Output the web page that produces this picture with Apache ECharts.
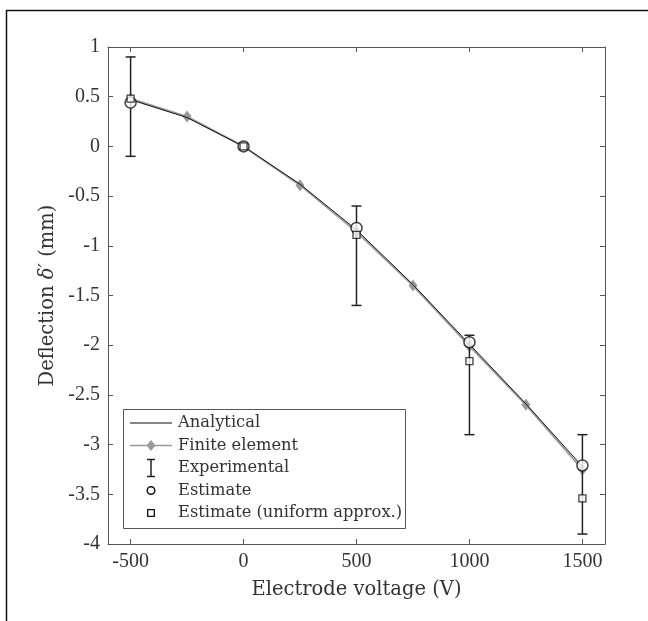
<!DOCTYPE html>
<html>
<head>
<meta charset="utf-8">
<script src="https://cdn.jsdelivr.net/npm/echarts@6/dist/echarts.min.js"></script>
<style>html,body{margin:0;padding:0;background:#fff;}#c{width:648px;height:621px;}</style>
</head>
<body>
<div id="c"></div>
<script>
// ---- data ----
const voltages = [-500, -250, 0, 250, 500, 750, 1000, 1250, 1500];
const analytical = [0.47, 0.29, 0, -0.38, -0.84, -1.39, -1.99, -2.59, -3.22];
const finiteElement = [0.48, 0.30, 0, -0.39, -0.86, -1.40, -2.01, -2.60, -3.25];
const expVoltages = [-500, 0, 500, 1000, 1500];
const expLow = [-0.1, -0.025, -1.6, -2.9, -3.9];
const expHigh = [0.9, 0.025, -0.6, -1.9, -2.9];
const estimate = [0.44, 0, -0.82, -1.97, -3.21];
const estimateUniform = [0.48, 0, -0.89, -2.16, -3.54];
const xTicks = [-500, 0, 500, 1000, 1500];
const seriesNames = ['Analytical', 'Finite element', 'Experimental', 'Estimate', 'Estimate (uniform approx.)'];

const FONT = 'DejaVu Serif';
const TICKFONT = 'Liberation Serif';
const TXT = '#333';
const AX = '#555';

const pair = (xs, ys) => xs.map((x, i) => [x, ys[i]]);
const errData = expVoltages.map((x, i) => [x, expLow[i], expHigh[i]]);

const chart = echarts.init(document.getElementById('c'), null, {renderer: 'canvas'});

const baseX = {
  type: 'value', min: -600, max: 1600, interval: 500,
  axisLine: {show: true, onZero: false, lineStyle: {color: AX, width: 1}},
  splitLine: {show: false}
};
const baseY = {
  type: 'value', min: -4, max: 1, interval: 0.5,
  axisLine: {show: true, onZero: false, lineStyle: {color: AX, width: 1}},
  axisTick: {show: true, inside: true, length: 5, lineStyle: {color: AX}},
  splitLine: {show: false}
};

// ---- legend (drawn as graphic, box + sample icons + text) ----
const LX = 151;            // icon centre x
const rows = [423, 445.5, 468, 490.5, 513];
const legendText = seriesNames.map((n, i) => ({
  type: 'text', left: 178, top: rows[i] - 10,
  style: {text: n, font: '16.3px "' + FONT + '"', fill: TXT, textVerticalAlign: 'top', lineHeight: 20},
  z: 101, silent: true
}));
const legendGraphics = [
  {type: 'rect', shape: {x: 123.5, y: 409.5, width: 282, height: 119},
    style: {fill: '#fff', stroke: '#555', lineWidth: 1}, z: 100, silent: true},
  {type: 'line', shape: {x1: 130, y1: rows[0], x2: 172, y2: rows[0]}, style: {stroke: '#111', lineWidth: 1}, z: 101, silent: true},
  {type: 'line', shape: {x1: 130, y1: rows[1], x2: 172, y2: rows[1]}, style: {stroke: '#999', lineWidth: 1.6}, z: 101, silent: true},
  {type: 'polygon', shape: {points: [[LX, rows[1] - 5.5], [LX + 4.5, rows[1]], [LX, rows[1] + 5.5], [LX - 4.5, rows[1]]]},
    style: {fill: '#999'}, z: 102, silent: true},
  {type: 'line', shape: {x1: LX, y1: rows[2] - 8.5, x2: LX, y2: rows[2] + 8.5}, style: {stroke: '#222', lineWidth: 1.5}, z: 101, silent: true},
  {type: 'line', shape: {x1: LX - 4, y1: rows[2] - 8.5, x2: LX + 4, y2: rows[2] - 8.5}, style: {stroke: '#222', lineWidth: 1.5}, z: 101, silent: true},
  {type: 'line', shape: {x1: LX - 4, y1: rows[2] + 8.5, x2: LX + 4, y2: rows[2] + 8.5}, style: {stroke: '#222', lineWidth: 1.5}, z: 101, silent: true},
  {type: 'circle', shape: {cx: LX, cy: rows[3], r: 3.8}, style: {fill: '#fff', stroke: '#111', lineWidth: 1.5}, z: 101, silent: true},
  {type: 'rect', shape: {x: LX - 3.3, y: rows[4] - 3.3, width: 6.6, height: 6.6}, style: {fill: '#fff', stroke: '#111', lineWidth: 1.3}, z: 101, silent: true}
].concat(legendText);

chart.setOption({
  animation: false,
  backgroundColor: '#fff',
  grid: {left: 108, right: 43, top: 47, bottom: 77, containLabel: false},
  xAxis: [
    Object.assign({}, baseX, {
      position: 'bottom',
      name: 'Electrode voltage (V)', nameLocation: 'middle', nameGap: 36,
      nameTextStyle: {fontFamily: FONT, fontSize: 19.5, color: TXT},
      axisLabel: {fontFamily: TICKFONT, fontSize: 20, color: TXT, margin: 8,
        customValues: xTicks, formatter: v => String(v)},
      axisTick: {show: true, inside: true, length: 5, lineStyle: {color: AX}, customValues: xTicks}
    }),
    Object.assign({}, baseX, {position: 'top', axisLabel: {show: false},
      axisTick: {show: true, inside: true, length: 5, lineStyle: {color: AX}, customValues: xTicks}})
  ],
  yAxis: [
    Object.assign({}, baseY, {
      position: 'left',
      name: '{n|Deflection }{i|δ′}{n| (mm)}', nameLocation: 'middle', nameGap: 50, nameRotate: 90,
      nameTextStyle: {fontFamily: FONT, fontSize: 19.5, color: TXT,
        rich: {n: {fontFamily: FONT, fontSize: 19.5, color: TXT}, i: {fontFamily: FONT, fontSize: 19.5, color: TXT, fontStyle: 'italic'}}},
      axisLabel: {fontFamily: TICKFONT, fontSize: 20, color: TXT, margin: 8, formatter: v => String(v)}
    }),
    Object.assign({}, baseY, {position: 'right', axisLabel: {show: false}})
  ],
  legend: {show: false},
  graphic: [
    {type: 'line', shape: {x1: 6.5, y1: 10, x2: 6.5, y2: 621}, style: {stroke: '#111', lineWidth: 1.5}, silent: true},
    {type: 'line', shape: {x1: 6, y1: 10.5, x2: 648, y2: 10.5}, style: {stroke: '#111', lineWidth: 1.5}, silent: true}
  ].concat(legendGraphics),
  series: [
    {
      name: seriesNames[1], type: 'line', xAxisIndex: 0, yAxisIndex: 0,
      data: pair(voltages, finiteElement),
      lineStyle: {color: '#999', width: 1.8},
      itemStyle: {color: '#999'},
      symbol: 'diamond', symbolSize: [9, 12], showAllSymbol: true, z: 2
    },
    {
      name: seriesNames[0], type: 'line', xAxisIndex: 0, yAxisIndex: 0,
      data: pair(voltages, analytical),
      lineStyle: {color: '#111', width: 1},
      itemStyle: {color: '#111'},
      symbol: 'none', z: 3
    },
    {
      name: seriesNames[2], type: 'custom', xAxisIndex: 0, yAxisIndex: 0,
      data: errData,
      encode: {x: 0, y: [1, 2]},
      renderItem: function (params, api) {
        const x = api.value(0);
        const lo = api.coord([x, api.value(1)]);
        const hi = api.coord([x, api.value(2)]);
        const hw = 5;
        const st = {stroke: '#222', lineWidth: 1.5, fill: null};
        return {type: 'group', children: [
          {type: 'line', shape: {x1: lo[0], y1: lo[1], x2: hi[0], y2: hi[1]}, style: st},
          {type: 'line', shape: {x1: lo[0] - hw, y1: lo[1], x2: lo[0] + hw, y2: lo[1]}, style: st},
          {type: 'line', shape: {x1: hi[0] - hw, y1: hi[1], x2: hi[0] + hw, y2: hi[1]}, style: st}
        ]};
      },
      z: 4
    },
    {
      name: seriesNames[3], type: 'scatter', xAxisIndex: 0, yAxisIndex: 0,
      data: pair(expVoltages, estimate),
      symbol: 'circle', symbolSize: 11,
      itemStyle: {color: '#fff', borderColor: '#111', borderWidth: 1.5},
      z: 5
    },
    {
      name: seriesNames[4], type: 'scatter', xAxisIndex: 0, yAxisIndex: 0,
      data: pair(expVoltages, estimateUniform),
      symbol: 'rect', symbolSize: 7,
      itemStyle: {color: '#fff', borderColor: '#111', borderWidth: 1.3},
      z: 6
    }
  ]
});
</script>
</body>
</html>
